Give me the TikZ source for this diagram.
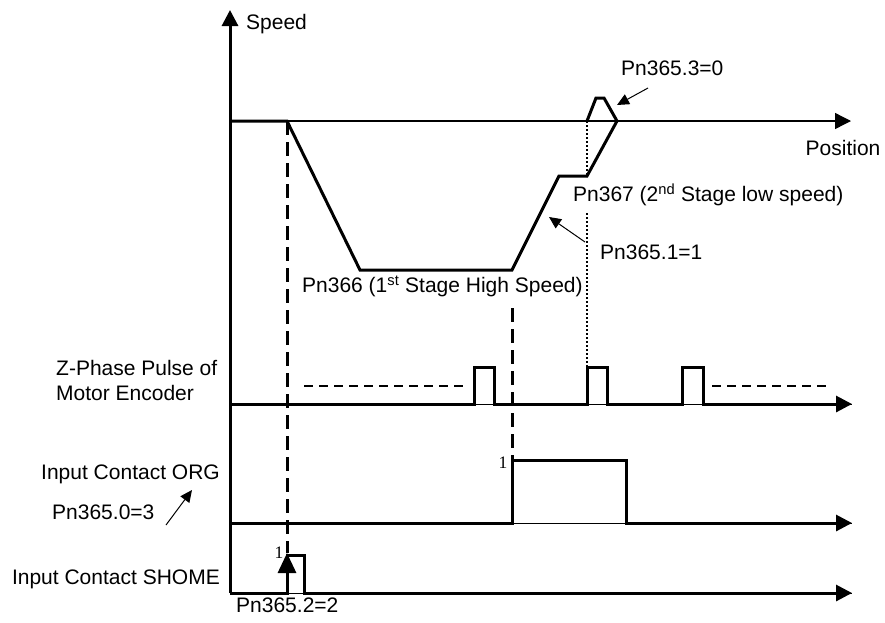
\documentclass[tikz,border=0pt]{standalone}
\usepackage{fontspec}
\setmainfont{Liberation Sans}
\newfontfamily\seriffont{Liberation Serif}
\usetikzlibrary{arrows.meta}
\begin{document}
\begin{tikzpicture}[x=1pt,y=-1pt,
  lbl/.style={font=\fontsize{21}{25}\selectfont, inner sep=0pt},
  onelbl/.style={font=\seriffont\fontsize{17.5}{20}\selectfont, inner sep=0pt},
  thk/.style={line width=3pt},
  thin/.style={line width=1pt},
  axisarrow/.style={-{Triangle[length=16pt,width=16pt]}},
  pointer/.style={line width=1pt,-{Triangle[length=12pt,width=11pt]}},
  vdash/.style={line width=3pt,dash pattern=on 14pt off 7pt},
  hdash/.style={line width=1.4pt,dash pattern=on 9pt off 6pt},
  vdot/.style={line width=2.4pt,dash pattern=on 2pt off 2pt},
  ]
\useasboundingbox (0,0) rectangle (885,622);
% key coordinates
\coordinate (O) at (230,593);
\coordinate (Stop) at (230,10);
\coordinate (P0) at (230,121);
\coordinate (Pend) at (851,121);
\coordinate (Z0) at (230,404);
\coordinate (Zend) at (852,404);
\coordinate (R0) at (230,523);
\coordinate (Rend) at (852,523);
\coordinate (S0) at (230,593);
\coordinate (Send) at (852,593);
% axes
\draw[thk,axisarrow] (O) -- (Stop);
\draw[line width=1.3pt,axisarrow] (P0) -- (Pend);
% speed profile
\draw[thk,line join=miter] (P0) -- (287,121) -- (360,270) -- (512,270) -- (559,176) -- (587,176) -- (617,121);
\draw[thk,line join=miter] (587,121) -- (596,98) -- (604,98) -- (617,121);
% Z-phase pulses
\draw[thin] (Z0) -- (Zend);
\draw[thk,axisarrow] (Z0) -- (474,404) -- (474,367) -- (494,367) -- (494,404)
  -- (587,404) -- (587,367) -- (607,367) -- (607,404)
  -- (682,404) -- (682,367) -- (703,367) -- (703,404) -- (Zend);
\draw[hdash] (304,386) -- (467,386);
\draw[hdash] (712,386) -- (830,386);
% ORG
\draw[thin] (R0) -- (Rend);
\draw[thk,axisarrow] (R0) -- (512,523) -- (512,460) -- (626,460) -- (626,523) -- (Rend);
% SHOME
\draw[thin] (S0) -- (Send);
\draw[thk,axisarrow] (S0) -- (287,593) -- (287,555) -- (304,555) -- (304,593) -- (Send);
\draw[thk,-{Triangle[length=20pt,width=18pt]}] (287,593) -- (287,553);
% guide lines
\draw[vdash] (287,121) -- (287,553);
\draw[vdash] (512,308) -- (512,460);
\draw[vdot] (587,121) -- (587,177);
\draw[vdot] (587,213) -- (587,367);
% labels
\node[lbl,anchor=mid west] (speed) at (246,27) {Speed};
\node[lbl] (pos) at (843,148) {Position};
\node[lbl,anchor=mid west] (p3) at (621,73) {Pn365.3=0};
\node[lbl,anchor=mid west] (p367) at (573,199) {Pn367 (2\textsuperscript{nd} Stage low speed)};
\node[lbl,anchor=mid west] (p1) at (600,257) {Pn365.1=1};
\node[lbl,anchor=mid west] (p366) at (302,290) {Pn366 (1\textsuperscript{st} Stage High Speed)};
\node[lbl,anchor=mid west] (z1) at (56,373) {Z-Phase Pulse of};
\node[lbl,anchor=mid west] (z2) at (56,398) {Motor Encoder};
\node[lbl,anchor=mid east] (org) at (220,477) {Input Contact ORG};
\node[lbl,anchor=mid west] (p0) at (52,517) {Pn365.0=3};
\node[lbl,anchor=mid east] (shome) at (220,582) {Input Contact SHOME};
\node[lbl,anchor=mid west] (p2) at (236,610) {Pn365.2=2};
\node[onelbl] (one1) at (503,463) {1};
\node[onelbl] (one2) at (279,553) {1};
% pointers
\coordinate (a3s) at (648,88);
\coordinate (a3e) at (617,105);
\coordinate (a1s) at (585,242);
\coordinate (a1e) at (549,217);
\coordinate (a0s) at (166,525);
\coordinate (a0e) at (192,490);
\draw[pointer] (a3s) -- (a3e);
\draw[pointer] (a1s) -- (a1e);
\draw[pointer] (a0s) -- (a0e);
\end{tikzpicture}
\end{document}
